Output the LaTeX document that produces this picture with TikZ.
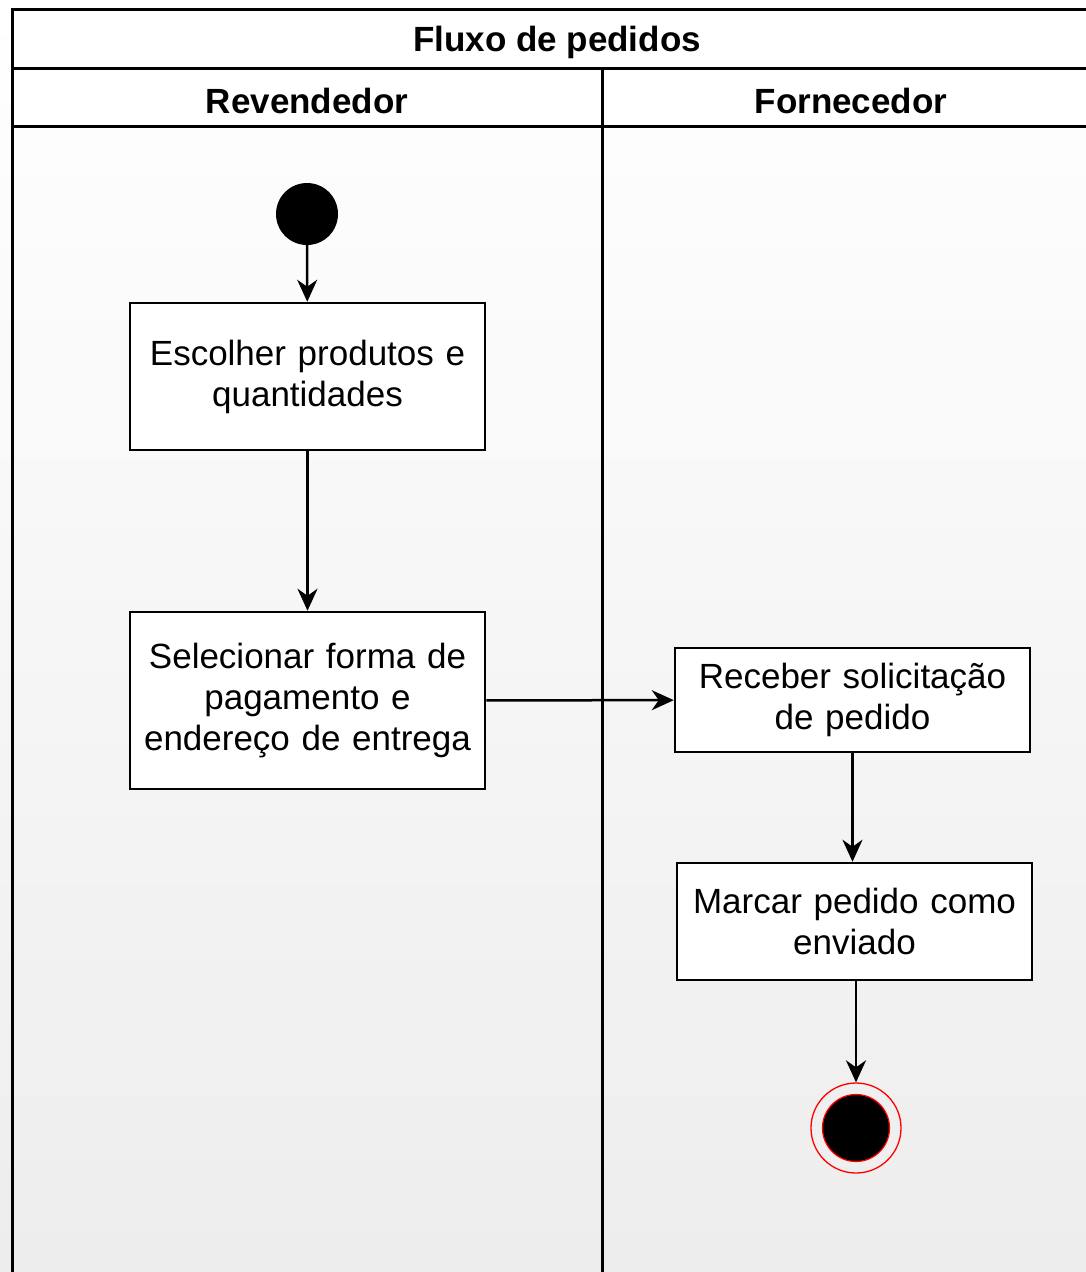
\documentclass[tikz,border=0pt]{standalone}
\usepackage{fontspec}
\setmainfont{Liberation Sans}
\usetikzlibrary{arrows.meta}
\definecolor{bgbot}{HTML}{EDEDED}
\begin{document}
\begin{tikzpicture}[x=1pt,y=-1pt,
  lane/.style={line width=3pt, line cap=rect},
  hdr/.style={font=\fontsize{35}{41}\selectfont\bfseries, inner sep=0pt},
  act/.style={draw, line width=2.5pt, fill=white, minimum width=355pt, text width=345pt, align=center, inner sep=0pt, font=\fontsize{35}{41}\selectfont},
  flow/.style={line width=2.5pt, -{Stealth[length=22pt,width=20pt,inset=7pt]}}]
\useasboundingbox (0,0) rectangle (1086,1272);
\shade[top color=white, bottom color=bgbot] (0,0) rectangle (1086,1272);
\clip (0,0) rectangle (1086,1272);
\fill[white] (12,9) rectangle (1100,126);
\draw[lane] (12,1300) -- (12,9) -- (1100,9);
\draw[lane] (12,68) -- (1100,68);
\draw[lane] (12,126) -- (1100,126);
\draw[lane] (602,68) -- (602,1300);
\node[hdr] (title) at (557,42) {Fluxo de pedidos};
\node[hdr] (lane1) at (307,101) {Revendedor};
\node[hdr] (lane2) at (851,101) {Fornecedor};

\node[circle, fill=black, minimum size=62pt, inner sep=0pt] (start) at (307,214) {};
\node[act, minimum height=147pt] (b1) at (307.5,376.5) {Escolher produtos e\\quantidades};
\node[act, minimum height=177pt] (b2) at (307.5,700.5) {Selecionar forma de\\pagamento e\\endereço de entrega};
\node[act, minimum height=104pt] (b3) at (852.5,700) {Receber solicitação\\de pedido};
\node[act, minimum height=117pt] (b4) at (854.5,921.5) {Marcar pedido como\\enviado};
\node[circle, draw=red, line width=1.3pt, minimum size=90pt, inner sep=0pt] (end) at (856,1128) {};
\node[circle, fill=black, draw=red, line width=1.2pt, minimum size=67pt, inner sep=0pt] (endin) at (end.center) {};

\draw[flow] (start) -- (b1);
\draw[flow] (b1) -- (b2);
\draw[flow] (b2) -- (b3);
\draw[flow] (b3.south) -- (b3.south |- b4.north);
\draw[flow] (b4.south -| end.north) -- (end.north);
\end{tikzpicture}
\end{document}
